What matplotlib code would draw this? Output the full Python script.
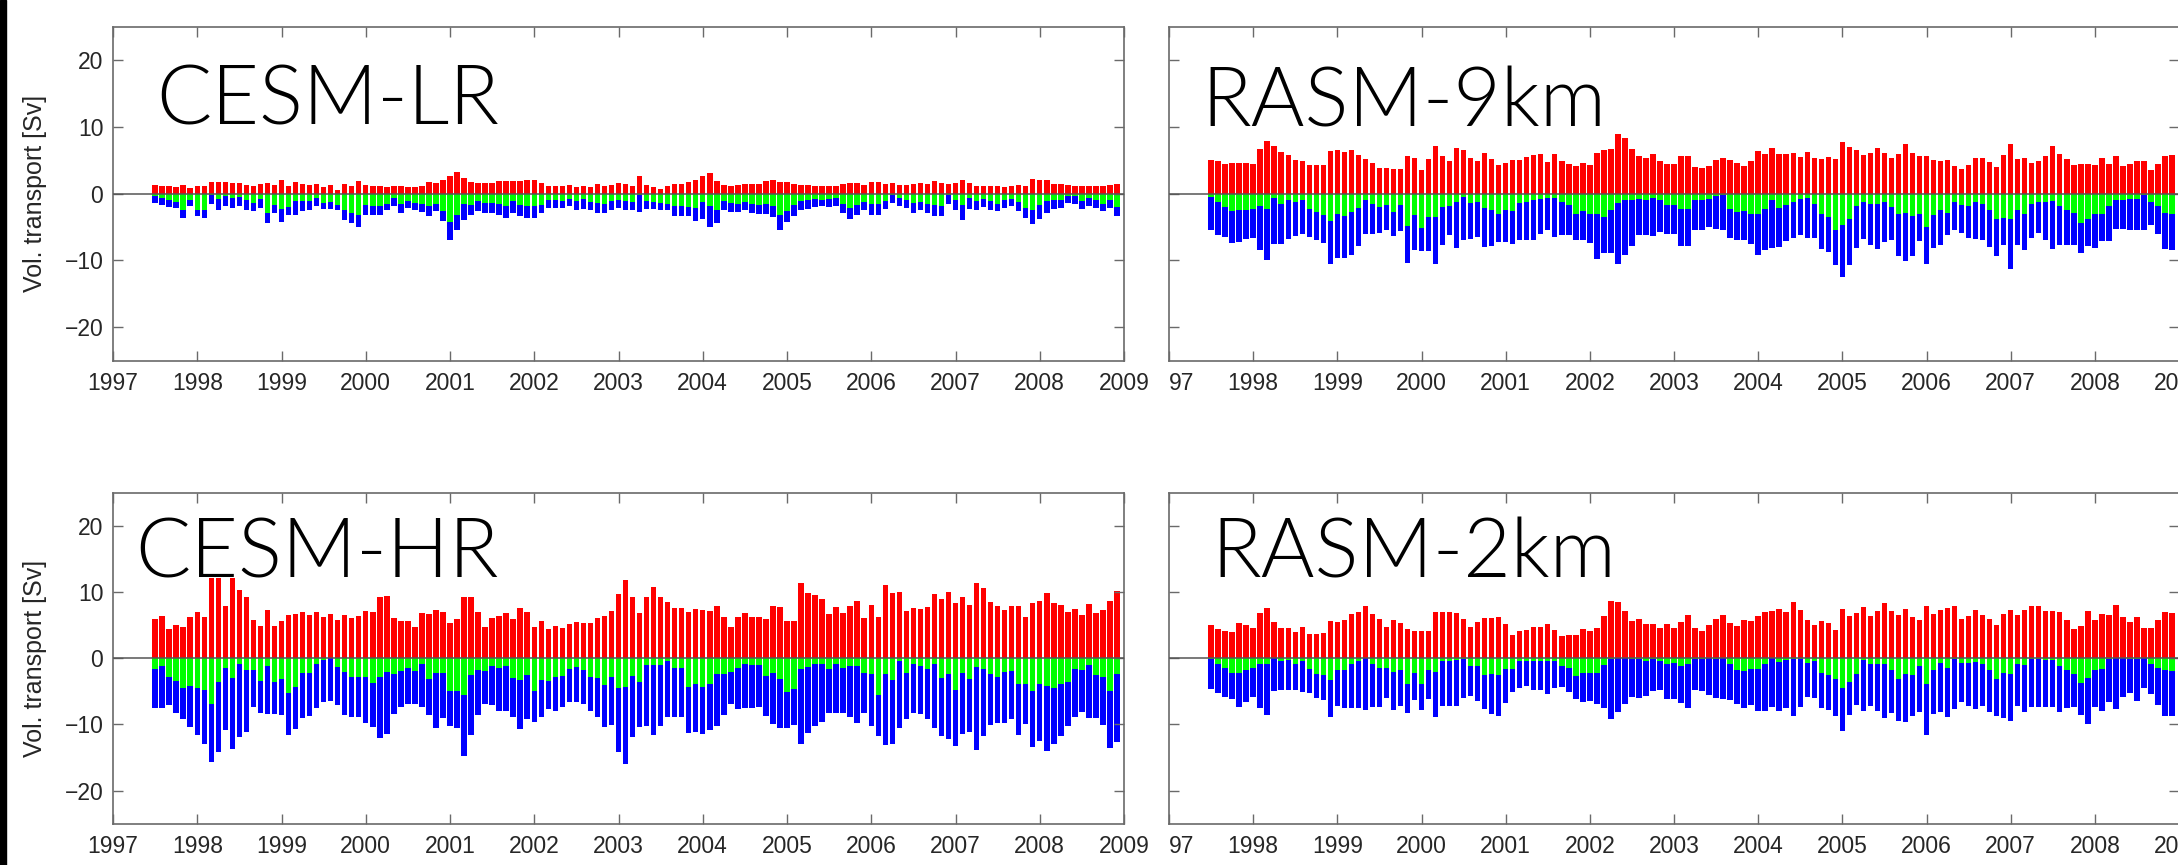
import matplotlib
matplotlib.use("Agg")
import matplotlib.pyplot as plt
from matplotlib.patches import Rectangle
import numpy as np

# Monthly volume transport [Sv], Jul 1997 - Dec 2008 (138 months)
# red = northward, green/total = southward (green part, full depth)
start_year = 1997.5
year_ticks = list(range(1997, 2010))

lr_red = [1.35, 1.2, 1.1, 0.95, 1.35, 0.8, 1.1, 1.1, 1.7, 1.8, 1.8, 1.6, 1.6, 1.35, 1.1, 1.45, 1.6, 1.3, 2.0, 1.2,
          1.7, 1.45, 1.35, 1.5, 1.0, 1.3, 0.6, 1.45, 1.1, 1.95, 1.3, 1.2, 1.2, 1.0, 1.2, 1.1, 1.0, 0.95, 1.2, 1.7,
          1.6, 2.1, 2.7, 3.2, 2.4, 1.7, 1.6, 1.6, 1.6, 1.85, 1.85, 1.95, 1.95, 2.0, 2.1, 1.6, 1.2,
          1.2, 1.2, 1.3, 1.0, 1.2, 0.95, 1.5, 1.2, 1.3, 1.6, 1.45, 1.2, 2.6, 1.3, 0.95, 0.7, 1.1, 1.45, 1.45, 1.7,
          2.05, 2.7, 3.1, 1.9, 1.3, 1.2, 1.3, 1.45, 1.45, 1.45, 1.85, 2.1, 1.8, 1.7, 1.5, 1.3, 1.3, 1.2, 1.2, 1.1,
          1.1, 1.45, 1.65, 1.6, 1.3, 1.7, 1.8, 1.45, 1.6, 1.3, 1.35, 1.45, 1.65, 1.45, 1.85, 1.6, 1.45, 1.6, 2.1, 1.6,
          1.2, 1.2, 1.1, 1.1, 0.95, 1.2, 1.3, 1.2, 2.2, 2.1, 2.0, 1.45, 1.45, 1.35, 1.2, 1.2, 1.2, 1.2, 1.2, 1.3, 1.5]
lr_green = [0.3, 0.6, 1.0, 1.2, 2.5, 0.9, 2.4, 2.4, 0.2, 0.8, 0.4, 0.65, 0.5, 0.9, 1.4, 0.8, 2.9, 1.65, 2.3, 2.0,
            1.15, 1.15, 1.15, 0.65, 1.4, 1.3, 1.65, 2.4, 2.9, 3.15, 1.65, 1.9, 1.9, 1.5, 0.65, 1.5, 1.15, 1.4, 1.5, 1.9,
            1.5, 2.65, 4.3, 3.15, 1.5, 1.65, 1.15, 1.4, 1.4, 1.5, 1.9, 1.15, 1.65, 1.8, 1.8, 1.65, 0.9,
            0.9, 1.15, 0.8, 1.15, 0.8, 1.3, 1.4, 1.5, 1.15, 0.9, 1.15, 1.3, 0.15, 1.05, 1.2, 1.4, 1.5, 1.9, 1.9, 2.0,
            2.15, 1.3, 1.8, 2.4, 1.15, 1.4, 1.5, 1.25, 1.5, 1.65, 1.5, 1.9, 3.15, 2.65, 1.65, 1.15, 0.9, 0.8, 0.9, 0.8,
            0.65, 1.5, 2.15, 1.65, 1.3, 1.5, 1.5, 1.15, 0.15, 0.65, 1.0, 1.4, 1.3, 1.5, 1.65, 1.9, 0.15, 0.9, 1.65, 0.65,
            1.15, 0.8, 1.15, 1.5, 0.9, 0.8, 1.3, 2.15, 2.4, 1.65, 1.15, 0.9, 0.9, 0.4, 0.3, 1.15, 0.65, 0.9, 1.5, 0.9, 2.0]
lr_total = [1.4, 1.7, 2.0, 2.2, 3.7, 1.9, 3.4, 3.6, 1.6, 2.4, 1.9, 2.15, 1.9, 2.4, 2.65, 2.15, 4.4, 2.9, 4.3, 3.15,
            3.15, 2.65, 2.4, 1.9, 2.3, 2.3, 2.5, 3.9, 4.4, 5.0, 3.15, 3.15, 3.15, 2.5, 1.9, 2.9, 2.15, 2.4, 2.8, 3.4,
            2.65, 4.15, 7.0, 5.5, 4.0, 3.15, 2.65, 2.9, 2.9, 3.15, 3.65, 2.9, 3.4, 3.65, 3.65, 2.9, 2.15,
            2.15, 2.15, 1.9, 2.4, 2.3, 2.5, 2.9, 2.9, 2.4, 2.15, 2.5, 2.4, 2.8, 2.3, 2.3, 2.5, 2.5, 3.4, 3.3, 3.3,
            4.15, 3.8, 5.0, 4.4, 2.5, 2.75, 2.75, 2.5, 2.9, 3.0, 3.0, 3.5, 5.4, 4.25, 3.4, 2.5, 2.3, 2.0, 1.9, 2.0,
            1.9, 2.9, 3.75, 3.15, 2.5, 3.15, 3.15, 2.3, 1.4, 1.9, 2.15, 2.9, 2.4, 2.9, 3.3, 3.3, 1.5, 2.5, 3.9, 2.3,
            2.5, 2.0, 2.4, 2.65, 2.15, 1.9, 2.65, 3.65, 4.5, 3.8, 2.9, 2.3, 2.15, 1.4, 1.5, 2.3, 1.9, 2.15, 2.65, 2.15, 3.4]

r9_red = [5.0, 4.9, 4.5, 4.65, 4.65, 4.6, 4.5, 6.65, 7.9, 7.1, 6.25, 5.85, 5.0, 4.9, 4.25, 4.25, 4.25, 6.4, 6.6, 6.25,
          6.6, 5.75, 5.15, 4.6, 3.9, 3.9, 3.75, 3.75, 5.6, 5.4, 3.5, 5.2, 7.15, 5.7, 4.9, 6.85, 6.5, 5.4, 4.9, 6.1,
          5.25, 4.35, 4.65, 5.0, 5.1, 5.5, 5.75, 5.9, 4.75, 6.0, 4.9, 4.5, 4.15, 4.6, 4.25, 6.1, 6.6, 6.75, 9.0, 8.4,
          6.75, 5.6, 5.4, 6.0, 4.9, 4.4, 4.4, 5.6, 5.6, 4.0, 3.9, 4.15, 5.1, 5.35, 5.1, 4.65, 4.15, 4.9, 6.4, 6.0,
          6.85, 6.0, 5.9, 6.1, 5.5, 6.2, 5.4, 5.25, 5.5, 5.25, 7.75, 7.0, 6.5, 5.75, 6.15, 6.85, 6.15, 5.4, 5.9, 7.4,
          6.1, 5.6, 5.6, 5.1, 4.95, 5.1, 4.1, 3.7, 4.25, 5.4, 5.4, 4.75, 4.0, 5.85, 7.5, 5.25, 5.4, 4.6, 4.85, 5.6,
          7.15, 6.0, 5.25, 4.35, 4.5, 4.5, 4.25, 5.35, 4.4, 5.6, 4.15, 4.4, 4.85, 4.85, 3.6, 4.4, 5.65, 5.75]
r9_green = [0.5, 1.25, 2.0, 2.6, 2.5, 2.4, 2.25, 1.9, 2.25, 0.6, 1.6, 1.0, 1.25, 1.0, 2.25, 2.75, 3.25, 4.1, 3.1, 3.4,
            2.75, 2.1, 0.9, 1.5, 2.0, 1.75, 2.75, 1.75, 4.9, 3.15, 5.15, 3.5, 3.5, 2.0, 1.85, 1.25, 0.5, 1.35, 1.25, 2.15,
            2.5, 3.0, 2.4, 2.6, 1.35, 1.25, 1.0, 0.85, 0.65, 0.6, 1.25, 1.75, 3.0, 2.6, 3.0, 3.1, 3.5, 2.4, 1.4, 1.0,
            1.0, 0.75, 1.0, 0.6, 0.9, 1.75, 1.75, 2.25, 2.25, 1.0, 1.0, 0.75, 0.4, 0.25, 2.25, 2.75, 2.6, 3.1, 3.0, 2.25,
            0.9, 2.1, 1.75, 1.25, 0.85, 0.6, 1.5, 3.0, 3.5, 5.5, 4.75, 3.75, 1.85, 1.25, 1.6, 1.6, 1.25, 2.0, 3.0, 2.9,
            3.4, 3.0, 5.0, 3.25, 2.4, 2.9, 1.25, 1.75, 1.85, 1.25, 1.5, 2.5, 3.85, 3.6, 3.75, 2.5, 3.0, 1.5, 1.25, 1.25,
            1.15, 1.9, 2.4, 2.9, 4.4, 3.75, 3.1, 3.0, 1.9, 0.9, 0.9, 0.75, 0.75, 0.25, 1.25, 1.9, 2.9, 3.0]
r9_total = [5.5, 6.25, 6.5, 7.35, 7.25, 6.85, 6.65, 8.4, 10.0, 7.6, 7.6, 6.75, 6.4, 6.0, 6.5, 7.0, 7.4, 10.5, 9.6, 9.6,
            9.25, 7.9, 6.0, 6.0, 5.85, 5.5, 6.35, 5.6, 10.35, 8.5, 8.6, 8.6, 10.6, 7.65, 6.15, 8.1, 7.0, 6.75, 6.5, 8.0,
            7.9, 7.25, 7.25, 7.6, 6.9, 6.9, 6.9, 6.0, 5.4, 6.5, 6.15, 6.15, 7.0, 7.0, 7.4, 9.75, 8.9, 8.85, 10.5, 9.25,
            7.9, 6.25, 6.25, 6.4, 5.75, 6.0, 6.0, 7.85, 7.85, 5.5, 5.4, 5.0, 5.35, 5.5, 6.65, 7.0, 6.9, 7.5, 9.25, 8.4,
            8.1, 8.0, 7.1, 6.6, 6.25, 6.65, 6.65, 8.25, 8.75, 10.65, 12.5, 10.65, 8.1, 6.85, 7.65, 8.35, 7.25, 7.0, 9.4, 10.15,
            9.4, 7.1, 10.5, 8.15, 7.75, 6.25, 5.5, 5.85, 6.6, 6.75, 6.9, 8.0, 9.4, 7.65, 11.25, 7.75, 8.4, 6.6, 5.9, 7.0,
            8.25, 7.65, 7.75, 7.75, 8.85, 7.9, 8.1, 7.1, 7.1, 5.25, 5.25, 5.5, 5.5, 5.5, 4.75, 6.0, 8.25, 8.5]

hr_red = [5.9, 6.3, 4.4, 5.05, 4.75, 6.25, 6.9, 6.15, 13.0, 14.0, 7.9, 13.5, 10.3, 9.25, 5.75, 4.9, 7.3, 4.9, 5.65, 6.5,
          6.65, 6.9, 6.5, 6.9, 6.15, 6.65, 5.75, 6.55, 6.05, 6.35, 7.15, 6.9, 9.3, 9.4, 6.05, 5.55, 5.65, 4.65, 6.75, 6.65,
          7.3, 6.9, 5.25, 5.85, 9.3, 9.25, 6.9, 4.65, 6.0, 6.4, 6.8, 5.9, 7.55, 6.9, 4.65, 5.65, 4.4,
          4.9, 4.55, 5.15, 5.4, 5.3, 5.25, 6.0, 6.3, 7.15, 9.65, 11.8, 9.3, 6.75, 9.25, 10.75, 9.25, 8.5, 7.55, 7.55, 7.0,
          7.4, 7.25, 7.15, 7.8, 6.25, 4.75, 6.25, 6.75, 6.25, 6.25, 5.9, 7.8, 7.65, 5.55, 5.65, 11.4, 9.9, 9.55, 9.0, 6.65,
          7.65, 6.8, 7.8, 8.65, 6.0, 8.05, 6.15, 11.0, 9.8, 10.05, 7.15, 7.55, 7.4, 7.75, 9.65, 8.9, 10.0, 8.4, 9.3, 8.05,
          11.3, 10.55, 8.55, 7.8, 7.3, 7.9, 7.9, 6.15, 8.4, 8.65, 9.8, 8.4, 8.05, 6.9, 7.4, 6.5, 8.15, 6.75, 7.3, 8.65, 10.15]
hr_green = [1.7, 1.25, 2.85, 3.45, 4.45, 4.25, 4.45, 4.85, 6.85, 3.6, 1.45, 2.95, 0.85, 1.75, 1.85, 3.45, 1.2, 3.6, 3.1, 5.25,
            4.35, 2.25, 2.2, 0.85, 0.35, 0.05, 1.35, 2.1, 2.85, 2.85, 2.85, 3.75, 2.85, 2.1, 2.35, 1.95, 1.45, 1.95, 0.85, 3.1,
            2.25, 2.25, 4.95, 4.95, 5.6, 2.6, 1.75, 1.95, 1.25, 1.5, 1.25, 2.95, 3.25, 2.5, 4.95, 3.25, 3.45,
            2.85, 2.75, 1.6, 1.35, 1.75, 2.85, 2.95, 4.1, 2.85, 4.5, 4.35, 2.75, 3.6, 1.0, 1.1, 1.1, 0.45, 1.45, 1.45, 4.35,
            3.85, 4.35, 3.95, 2.45, 2.45, 2.1, 1.45, 0.95, 1.1, 1.1, 2.75, 2.2, 3.1, 5.1, 4.6, 1.6, 1.35, 0.95, 0.85, 1.7,
            0.85, 1.45, 1.25, 1.25, 2.25, 2.35, 5.6, 2.35, 3.25, 0.5, 2.2, 0.85, 1.2, 1.6, 0.85, 2.95, 2.35, 4.85, 2.25, 3.1,
            1.35, 1.7, 2.35, 2.85, 2.1, 1.95, 3.85, 3.85, 5.0, 3.95, 4.2, 4.5, 3.95, 3.6, 1.7, 1.75, 1.0, 2.5, 2.85, 5.0, 2.35]
hr_total = [7.5, 7.5, 7.1, 8.35, 9.25, 10.35, 11.6, 13.0, 15.75, 14.1, 10.85, 13.7, 11.85, 11.1, 7.45, 8.35, 8.45, 8.45, 8.6, 11.6,
            10.75, 9.0, 8.7, 7.6, 6.6, 6.45, 7.0, 8.6, 8.85, 8.95, 9.75, 10.35, 12.1, 11.45, 8.45, 7.35, 6.95, 6.95, 7.45, 8.6,
            10.5, 9.1, 10.2, 10.5, 14.85, 11.6, 8.6, 6.85, 7.1, 7.95, 7.95, 8.95, 10.75, 9.25, 9.6, 8.85, 7.75,
            7.95, 7.35, 6.6, 6.6, 6.95, 7.95, 8.85, 10.45, 10.1, 14.1, 16.0, 11.95, 10.35, 10.2, 11.6, 10.25, 8.95, 8.95, 8.95, 11.25,
            11.1, 11.5, 10.85, 10.25, 8.6, 6.95, 7.75, 7.6, 7.6, 7.35, 8.7, 10.0, 10.6, 10.6, 10.1, 12.95, 11.25, 10.25, 9.6, 8.25,
            8.35, 8.35, 8.85, 9.85, 8.25, 10.25, 11.7, 13.1, 12.95, 10.6, 9.15, 8.35, 8.45, 9.25, 10.5, 11.75, 12.25, 13.25, 11.45, 11.1,
            13.9, 11.75, 10.1, 9.85, 9.85, 9.25, 11.6, 9.95, 13.35, 12.45, 13.95, 12.95, 11.75, 10.25, 8.95, 8.1, 9.1, 9.1, 10.1, 13.5, 12.6]

r2_red = [4.95, 4.4, 4.15, 3.95, 5.3, 5.05, 4.55, 6.8, 7.55, 5.45, 4.55, 4.55, 3.9, 4.7, 3.7, 3.7, 3.8, 5.55, 5.45, 5.8,
          6.65, 6.9, 7.95, 6.65, 5.9, 4.7, 5.7, 5.3, 4.45, 4.15, 4.05, 4.15, 6.95, 6.95, 6.95, 6.8, 5.9, 4.7, 5.45, 6.05,
          6.05, 6.15, 5.2, 3.45, 4.05, 4.3, 4.65, 4.65, 5.2, 4.3, 3.3, 3.45, 3.55, 4.45, 4.15, 4.55, 6.4, 8.7, 8.45, 7.05,
          5.55, 5.95, 5.15, 5.15, 4.55, 5.15, 4.55, 5.4, 6.55, 4.55, 4.05, 5.05, 5.9, 6.55, 5.3, 4.9, 5.7, 5.55, 6.3, 6.95,
          7.05, 7.4, 6.9, 8.45, 7.3, 5.8, 5.05, 5.55, 5.3, 4.3, 7.45, 6.3, 6.8, 7.7, 6.3, 7.05, 8.4, 7.05, 6.45, 7.4,
          6.2, 5.8, 7.9, 6.7, 7.3, 7.55, 7.9, 5.95, 6.4, 7.3, 6.45, 5.95, 4.95, 6.7, 7.3, 6.55, 7.2, 7.9, 7.9, 7.05,
          7.05, 6.95, 5.7, 4.4, 4.9, 7.05, 5.7, 6.65, 6.55, 8.05, 6.15, 5.45, 6.15, 4.55, 4.55, 5.7, 6.9, 6.8]
r2_green = [0.1, 0.95, 1.45, 2.2, 2.3, 1.85, 1.45, 0.85, 0.95, 0.0, 0.45, 0.3, 0.85, 0.45, 1.7, 2.45, 2.55, 3.35, 1.85, 1.85,
            0.95, 0.45, 0.05, 0.85, 1.55, 1.45, 2.1, 1.85, 3.95, 2.3, 3.95, 1.85, 2.05, 0.45, 0.45, 0.3, 0.2, 1.2, 1.2, 2.55,
            2.45, 2.55, 1.7, 1.7, 0.45, 0.45, 0.45, 0.45, 0.45, 0.45, 1.2, 1.55, 2.7, 2.2, 2.2, 2.3, 1.1, 0.2, 0.05, 0.0,
            0.2, 0.2, 0.45, 0.1, 0.45, 0.85, 0.8, 1.2, 0.85, 0.1, 0.1, 0.0, 0.1, 0.0, 0.95, 1.8, 1.95, 1.7, 1.7, 0.95,
            0.0, 0.6, 0.35, 0.1, 0.1, 0.8, 0.45, 2.2, 2.6, 3.2, 4.45, 3.55, 2.35, 0.35, 0.85, 0.95, 0.95, 1.85, 3.1, 2.35,
            2.6, 1.2, 3.95, 1.85, 0.8, 1.45, 0.1, 0.7, 0.8, 0.6, 0.95, 1.85, 3.2, 2.2, 2.35, 0.85, 1.1, 0.1, 0.1, 0.35,
            0.35, 1.2, 1.85, 2.45, 3.7, 2.95, 1.85, 1.7, 0.1, 0.0, 0.0, 0.1, 0.1, 0.0, 0.95, 1.45, 1.85, 1.95]
r2_total = [4.6, 5.3, 5.8, 6.2, 7.45, 6.6, 5.85, 7.6, 8.55, 4.95, 4.85, 4.75, 4.85, 5.1, 5.3, 5.95, 6.35, 8.85, 7.2, 7.6,
            7.55, 7.55, 7.85, 7.35, 7.35, 5.95, 7.8, 7.2, 8.35, 6.35, 7.85, 6.2, 8.85, 7.2, 7.2, 7.2, 5.95, 5.7, 6.45, 7.7,
            8.45, 8.7, 6.8, 5.1, 4.45, 4.2, 4.85, 4.85, 5.35, 4.55, 4.35, 5.05, 6.2, 6.55, 6.45, 6.85, 7.6, 9.25, 8.2, 6.95,
            5.85, 6.05, 5.7, 4.95, 4.85, 6.2, 6.1, 6.7, 7.55, 4.85, 4.95, 5.6, 5.95, 6.2, 6.35, 6.95, 7.55, 7.05, 7.95, 7.95,
            7.45, 7.95, 7.55, 8.7, 7.35, 5.8, 5.95, 7.6, 7.85, 8.8, 10.95, 8.55, 7.1, 7.95, 7.2, 7.95, 9.1, 8.3, 9.45, 9.6,
            8.8, 8.1, 11.6, 8.45, 8.2, 8.95, 7.7, 6.6, 7.2, 7.7, 7.2, 8.2, 8.8, 9.05, 9.55, 7.2, 8.2, 7.45, 7.45, 7.35,
            7.35, 8.2, 7.55, 7.35, 8.55, 9.95, 7.45, 7.95, 6.55, 7.7, 5.8, 5.3, 6.45, 4.45, 5.35, 7.1, 8.7, 8.7]

W, H = 2178.0, 865.0


def frame(left, top, right, bottom):
    return [left / W, 1 - bottom / H, (right - left) / W, (bottom - top) / H]


panels = [
    ("CESM-LR", lr_red, lr_green, lr_total, frame(113, 27, 1124, 360.5), True, (1997.51, 10.4)),
    ("RASM-9km", r9_red, r9_green, r9_total, frame(1169, 27, 2179, 360.5), False, (1997.38, 10.15)),
    ("CESM-HR", hr_red, hr_green, hr_total, frame(113, 492.6, 1124, 823.7), True, (1997.26, 12.15)),
    ("RASM-2km", r2_red, r2_green, r2_total, frame(1169, 492.6, 2179, 823.7), False, (1997.5, 12.15)),
]

plt.rcParams['font.family'] = ['Liberation Sans', 'DejaVu Sans']
fig = plt.figure(figsize=(W / 100, H / 100), dpi=100)

axis_grey = '#6a6a6a'
bar_w = 0.78 / 12
title_size = 59

titles = []
for name, red, green, total, pos, left_col, (tx, ty) in panels:
    ax = fig.add_axes(pos)
    x = start_year + np.arange(len(red)) / 12.0
    g = -np.array(green)
    t = -np.array(total)
    ax.bar(x, red, width=bar_w, color='#ff0000', linewidth=0)
    ax.bar(x, g, width=bar_w, color='#00ff00', linewidth=0)
    ax.bar(x, t - g, bottom=g, width=bar_w, color='#0000ff', linewidth=0)
    ax.axhline(0, color='#555555', lw=1.1, zorder=3)

    ax.set_xlim(1997, 2009)
    ax.set_ylim(-25, 25)
    ax.set_xticks(year_ticks)
    ax.set_yticks([-20, -10, 0, 10, 20])
    labels = [str(y) for y in year_ticks]
    if not left_col:
        labels[0] = '97'
    ax.set_xticklabels(labels)
    ax.tick_params(direction='in', top=True, right=True, length=7, width=1.0,
                   color=axis_grey, labelsize=16.5, labelcolor='#262626')
    ax.tick_params(axis='x', pad=8)
    ax.tick_params(axis='y', pad=7)
    for s in ax.spines.values():
        s.set_color(axis_grey)
        s.set_linewidth(1.2)

    if left_col:
        ax.set_ylabel('Vol. transport [Sv]', fontsize=18, color='#262626')
        ax.yaxis.set_label_coords(-0.065, 0.5)
    else:
        ax.set_yticklabels([])
        ax.get_xticklabels()[0].set_horizontalalignment('left')

    txt = ax.text(tx, ty, name, fontsize=title_size, family='Lato', fontweight=300,
                  color='black', ha='left', va='baseline', zorder=6)
    titles.append((ax, txt, ty))

# the panel names sit on a white patch that hides bars reaching into them
fig.canvas.draw()
cap_height = 0.72 * title_size * 100 / 72  # px
for ax, txt, ty in titles:
    bb = txt.get_window_extent().transformed(ax.transData.inverted())
    top = ax.transData.inverted().transform(
        ax.transData.transform((0, ty)) + np.array([0, cap_height]))[1]
    ax.add_patch(Rectangle((bb.x0, ty), bb.width, top - ty, facecolor='white',
                           edgecolor='none', zorder=5))

# dark strip along the left edge of the original image
fig.add_artist(Rectangle((0, 0), 6 / W, 1, transform=fig.transFigure,
                         color='black', zorder=10))

fig.savefig('out.png', dpi=100)
